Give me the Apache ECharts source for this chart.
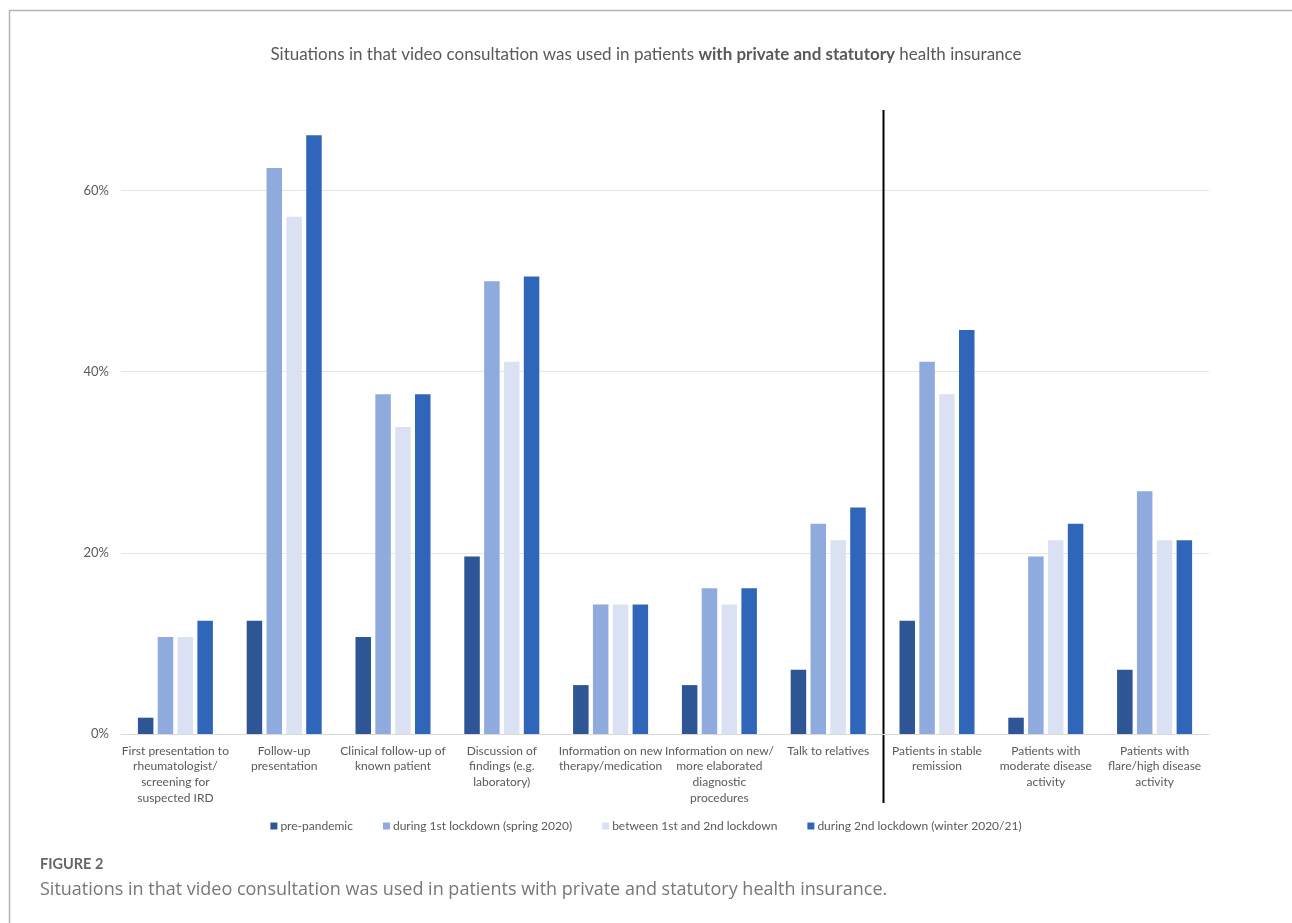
<!DOCTYPE html>
<html>
<head>
<meta charset="utf-8">
<script src="https://cdn.jsdelivr.net/npm/echarts@6/dist/echarts.min.js"></script>
<style>
  html, body { margin: 0; padding: 0; background: #fff; }
  #chart { width: 1292px; height: 923px; }
</style>
</head>
<body>
<div id="chart"></div>
<script>
// Situations in which video consultation was used (share of respondents, %)
const categories = [
  'First presentation to\nrheumatologist/\nscreening for\nsuspected IRD',
  'Follow-up\npresentation',
  'Clinical follow-up of\nknown patient',
  'Discussion of\nfindings (e.g.\nlaboratory)',
  'Information on new\ntherapy/medication',
  'Information on new/\nmore elaborated\ndiagnostic\nprocedures',
  'Talk to relatives',
  'Patients in stable\nremission',
  'Patients with\nmoderate disease\nactivity',
  'Patients with\nflare/high disease\nactivity'
];
const seriesNames = [
  'pre-pandemic',
  'during 1st lockdown (spring 2020)',
  'between 1st and 2nd lockdown',
  'during 2nd lockdown (winter 2020/21)'
];
const prePandemic   = [1.8, 12.5, 10.7, 19.6, 5.4, 5.4, 7.1, 12.5, 1.8, 7.1];
const firstLockdown = [10.7, 62.5, 37.5, 50.0, 14.3, 16.1, 23.2, 41.1, 19.6, 26.8];
const betweenLock   = [10.7, 57.1, 33.9, 41.1, 14.3, 14.3, 21.4, 37.5, 21.4, 21.4];
const secondLockdown= [12.5, 66.1, 37.5, 50.5, 14.3, 16.1, 25.0, 44.6, 23.2, 21.4];
const yTicks = [0, 20, 40, 60];

const colors = ['#2E5596', '#8FAADC', '#DAE1F3', '#3066B9'];
const values = [prePandemic, firstLockdown, betweenLock, secondLockdown];
const textColor = '#595959';
const font = 'Lato, "Open Sans", sans-serif';

const chart = echarts.init(document.getElementById('chart'));

chart.setOption({
  animation: false,
  backgroundColor: '#ffffff',
  color: colors,
  title: {
    text: '{n|Situations in that video consultation was used in patients }{b|with private and statutory}{n| health insurance}',
    left: 'center',
    top: 41,
    textStyle: {
      fontWeight: 'normal',
      rich: {
        n: { fontFamily: font, fontSize: 17, color: textColor, fontWeight: 'normal' },
        b: { fontFamily: font, fontSize: 17, color: textColor, fontWeight: 'bold' }
      }
    }
  },
  legend: {
    data: seriesNames,
    bottom: 86,
    left: 'center',
    icon: 'rect',
    itemWidth: 7,
    itemHeight: 7,
    itemGap: 30,
    textStyle: { fontFamily: font, fontSize: 12, color: textColor, padding: [0, 0, 0, -2] }
  },
  grid: { left: 121, right: 83, top: 100, bottom: 189, containLabel: false },
  xAxis: {
    type: 'category',
    data: categories,
    axisLine: { show: true, lineStyle: { color: '#d9d9d9', width: 1 } },
    axisTick: { show: false },
    axisLabel: {
      interval: 0,
      margin: 9,
      fontFamily: font,
      fontSize: 12,
      lineHeight: 15.7,
      color: textColor,
      align: 'center',
      verticalAlign: 'top'
    }
  },
  yAxis: {
    type: 'value',
    min: 0,
    max: 70,
    interval: 20,
    axisLine: { show: false },
    axisTick: { show: false },
    splitLine: { show: true, showMaxLine: false, lineStyle: { color: '#e6e6e6', width: 1 } },
    axisLabel: {
      margin: 12,
      fontFamily: font,
      fontSize: 13,
      color: textColor,
      formatter: v => (yTicks.indexOf(v) >= 0 ? v + '%' : '')
    }
  },
  series: seriesNames.map((name, i) => ({
    name: name,
    type: 'bar',
    data: values[i],
    barWidth: 15.5,
    barGap: '28%',
    itemStyle: { color: colors[i] }
  }))
});

// Separator between situation types and disease-activity groups, plus frame and caption
function drawExtras() {
  const a = chart.convertToPixel({ xAxisIndex: 0 }, 6);
  const b = chart.convertToPixel({ xAxisIndex: 0 }, 7);
  const xSep = Math.round((a + b) / 2) + 0.5;
  chart.setOption({
    graphic: [
      { type: 'line', shape: { x1: xSep, y1: 110, x2: xSep, y2: 803 },
        style: { stroke: '#000', lineWidth: 2 } },
      { type: 'line', shape: { x1: 9.5, y1: 10, x2: 9.5, y2: 923 },
        style: { stroke: '#b3b3b3', lineWidth: 1.5 } },
      { type: 'line', shape: { x1: 9, y1: 10.5, x2: 1292, y2: 10.5 },
        style: { stroke: '#b3b3b3', lineWidth: 1.5 } },
      { type: 'text', left: 40, top: 857,
        style: { text: 'FIGURE 2', fontFamily: font, fontSize: 14.5, fontWeight: 'bold', fill: '#666666' } },
      { type: 'text', left: 40, top: 881,
        style: { text: 'Situations in that video consultation was used in patients with private and statutory health insurance.',
          fontFamily: '"Open Sans", sans-serif', fontSize: 18, fill: '#777777' } }
    ]
  });
}
drawExtras();
</script>
</body>
</html>
